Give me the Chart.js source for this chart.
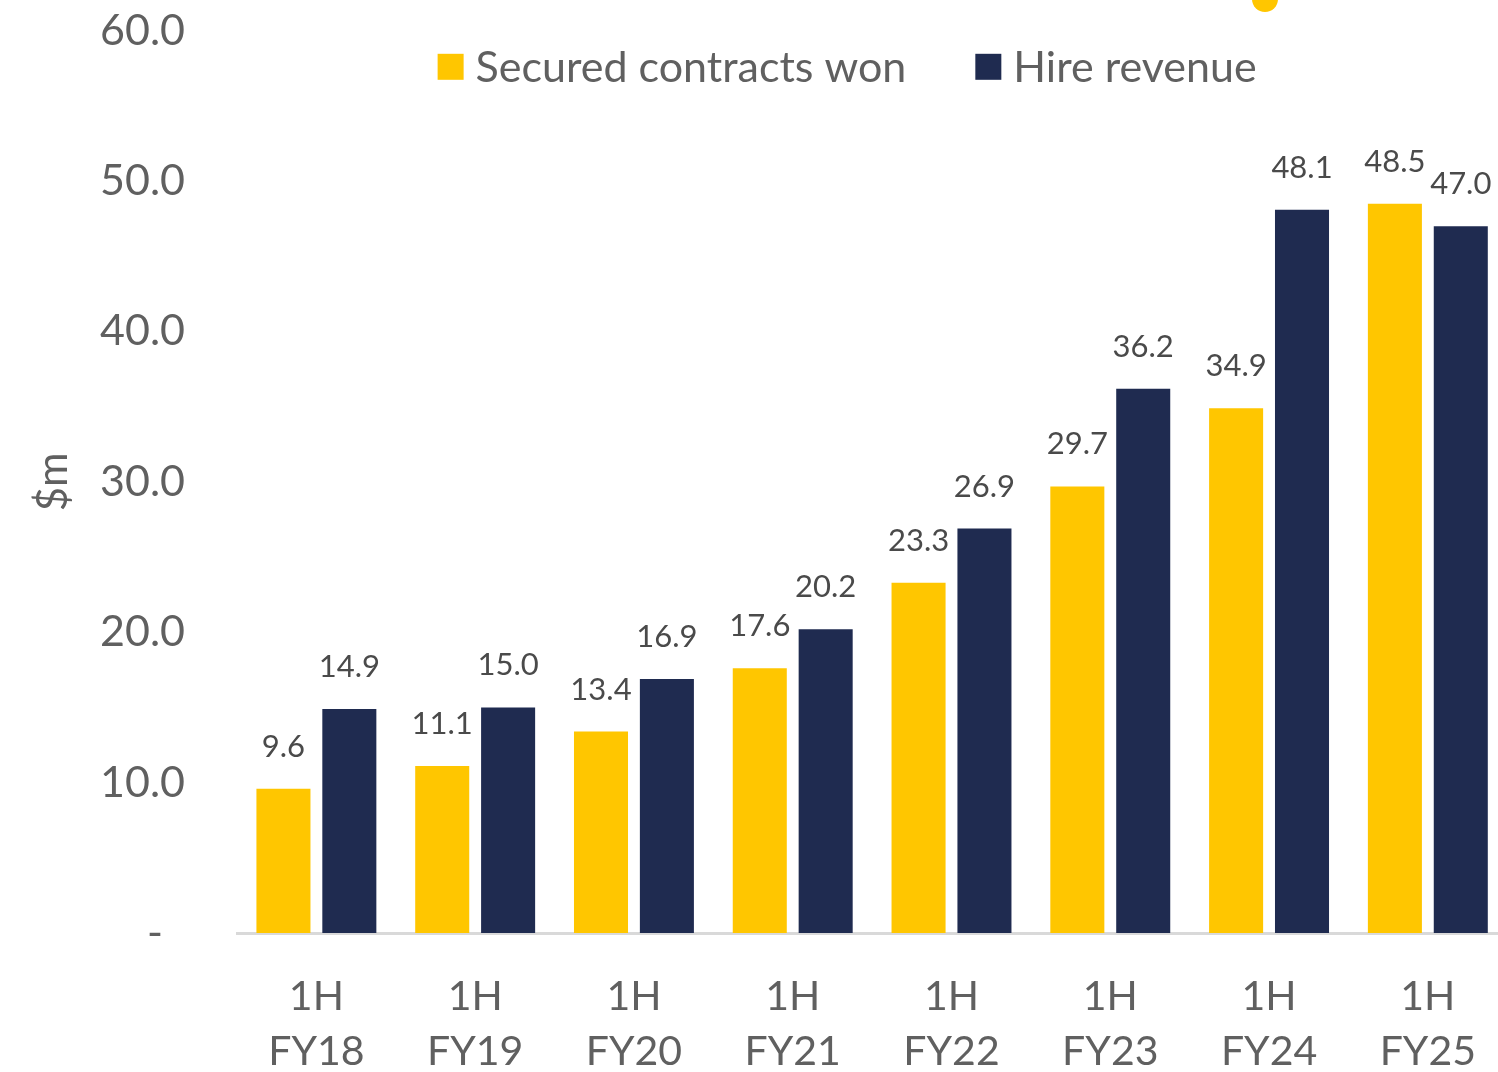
<!DOCTYPE html>
<html>
<head>
<meta charset="utf-8">
<script src="https://cdn.jsdelivr.net/npm/chart.js@4/dist/chart.umd.min.js"></script>
<style>
  html, body { margin: 0; padding: 0; background: #ffffff; overflow: hidden; }
  #wrap { position: relative; width: 1498px; height: 1072px; overflow: hidden; }
  #c { position: absolute; left: 0; top: -47px; }
  #dot { position: absolute; left: 1252px; top: -14px; width: 26px; height: 26px; border-radius: 50%; background: #FFC600; }
</style>
</head>
<body>
<div id="wrap">
  <canvas id="c" width="1512" height="1119"></canvas>
  <div id="dot"></div>
</div>
<script>
const categories = [["1H","FY18"],["1H","FY19"],["1H","FY20"],["1H","FY21"],["1H","FY22"],["1H","FY23"],["1H","FY24"],["1H","FY25"]];
const securedContractsWon = [9.6, 11.1, 13.4, 17.6, 23.3, 29.7, 34.9, 48.5];
const hireRevenue = [14.9, 15.0, 16.9, 20.2, 26.9, 36.2, 48.1, 47.0];
const seriesNames = ["Secured contracts won", "Hire revenue"];
const yTickValues = [0, 10, 20, 30, 40, 50, 60];
const yAxisTitle = "$m";

const YELLOW = "#FFC600";
const NAVY = "#1F2B50";
const FONT = "Lato, 'Open Sans', sans-serif";

const dataLabels = {
  id: "dataLabels",
  afterDatasetsDraw(chart) {
    const ctx = chart.ctx;
    ctx.save();
    ctx.font = "31px " + FONT;
    ctx.fillStyle = "#4a4a4a";
    ctx.textAlign = "center";
    ctx.textBaseline = "middle";
    chart.data.datasets.forEach((ds, di) => {
      const meta = chart.getDatasetMeta(di);
      meta.data.forEach((bar, i) => {
        ctx.fillText(ds.data[i].toFixed(1), bar.x, bar.y - 42);
      });
    });
    ctx.restore();
  }
};

const innerLegend = {
  id: "innerLegend",
  afterDraw(chart) {
    const ctx = chart.ctx;
    const area = chart.chartArea;
    ctx.save();
    ctx.font = "43px " + FONT;
    ctx.textBaseline = "middle";
    const box = 26, gapBox = 12, gapItem = 69;
    const widths = chart.data.datasets.map(d => box + gapBox + ctx.measureText(d.label).width);
    const total = widths.reduce((a, b) => a + b, 0) + gapItem * (widths.length - 1);
    let x = (area.left + area.right) / 2 - total / 2 - 25;
    const y = area.top + 36;
    chart.data.datasets.forEach((d, i) => {
      ctx.fillStyle = d.backgroundColor;
      ctx.fillRect(x, y - box / 2, box, box);
      ctx.fillStyle = "#606060";
      ctx.textAlign = "left";
      ctx.fillText(d.label, x + box + gapBox, y + 1);
      x += widths[i] + gapItem;
    });
    ctx.restore();
  }
};

new Chart(document.getElementById("c"), {
  type: "bar",
  data: {
    labels: categories,
    datasets: [
      { label: seriesNames[0], data: securedContractsWon, backgroundColor: YELLOW },
      { label: seriesNames[1], data: hireRevenue, backgroundColor: NAVY }
    ]
  },
  options: {
    responsive: false,
    animation: false,
    devicePixelRatio: 1,
    categoryPercentage: 0.83,
    barPercentage: 0.82,
    layout: { padding: { top: 0, right: 0, bottom: 0, left: 0 } },
    plugins: { legend: { display: false }, tooltip: { enabled: false } },
    scales: {
      x: {
        grid: { display: false, drawTicks: false },
        border: { display: true, color: "#d9d9d9", width: 3 },
        ticks: { color: "#606060", font: { family: FONT, size: 41, lineHeight: 1.35 }, padding: 36, maxRotation: 0, autoSkip: false },
        afterFit(scale) { scale.height = 139; }
      },
      y: {
        min: 0, max: 60,
        afterBuildTicks(scale) { scale.ticks = yTickValues.map(v => ({ value: v })); },
        grid: { display: false, drawTicks: false },
        border: { display: false },
        ticks: {
          color: "#606060",
          font: { family: FONT, size: 43 },
          padding: 52,
          callback(v) { return v === 0 ? "-  " : Number(v).toFixed(1); }
        },
        title: { display: true, text: yAxisTitle, color: "#606060", font: { family: FONT, size: 42 }, padding: { top: 28, bottom: 0 } },
        afterFit(scale) { scale.width = 237; }
      }
    }
  },
  plugins: [dataLabels, innerLegend]
});
</script>
</body>
</html>
